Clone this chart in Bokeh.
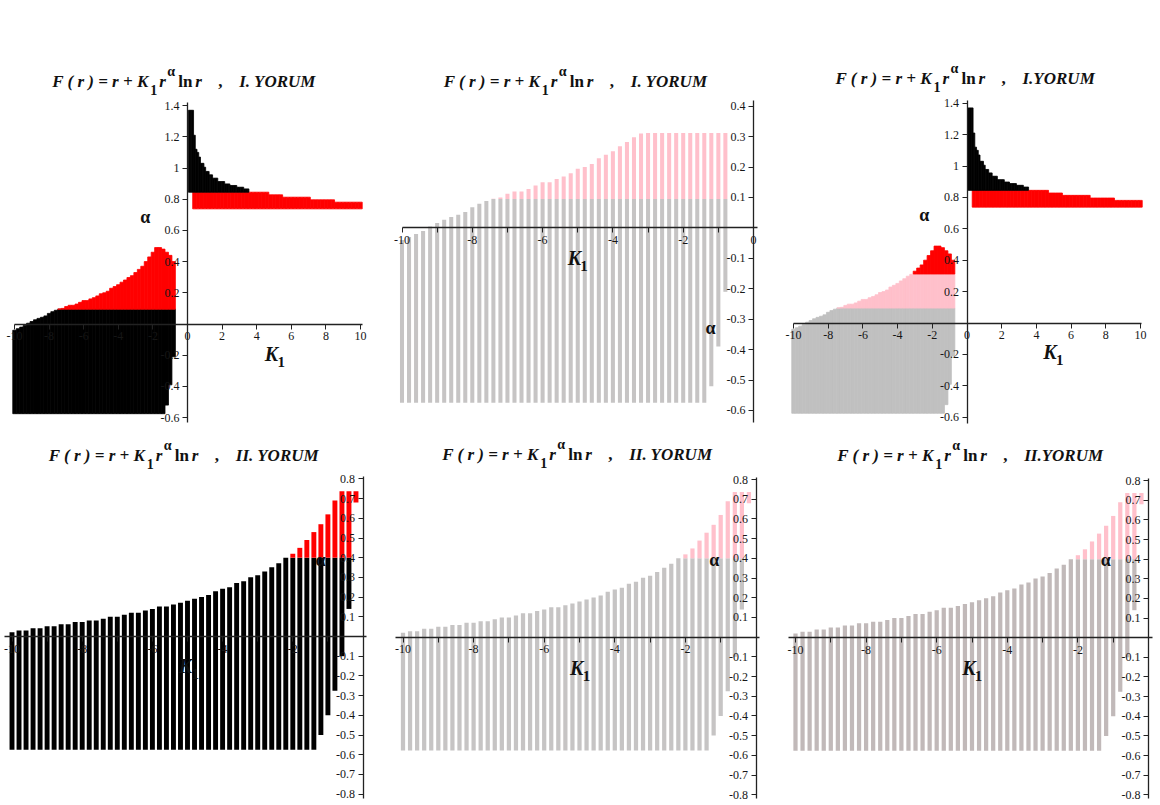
import numpy as np
from bokeh.plotting import figure
from bokeh.layouts import column, row
from bokeh.models import Label, FixedTicker, Range1d, CustomJSTickFormatter
from bokeh.embed import file_html
from bokeh.resources import INLINE

# ---------------- data: I. YORUM, K1 < 0 (columns every 0.2 from -10 to -0.8)
k1_neg_I = np.round(np.arange(-10.0, -0.79, 0.2), 1)
alpha_top_I = [-0.04, -0.03, -0.02, -0.01, 0.005, 0.016, 0.027, 0.036, 0.043, 0.052,
               0.068, 0.079, 0.088, 0.096, 0.10, 0.112, 0.12, 0.12, 0.128, 0.139,
               0.15, 0.15, 0.161, 0.169, 0.18, 0.194, 0.20, 0.21, 0.229, 0.24,
               0.252, 0.268, 0.282, 0.298, 0.31, 0.33, 0.35, 0.37, 0.40, 0.43,
               0.46, 0.49, 0.49, 0.48, 0.46, 0.44, 0.40]
alpha_bottom_I = [-0.575] * 44 + [-0.52, -0.39, -0.21]
alpha_cut_low_I = 0.095
alpha_cut_high_I = 0.312

# ---------------- data: I. YORUM, K1 > 0
k1_pos_black = np.round(np.arange(0.1, 3.51, 0.1), 1)
alpha_top_black = [1.37, 1.37, 1.37, 1.21, 1.12, 1.10, 1.07, 1.03, 1.03, 1.005,
                   0.978, 0.978, 0.956, 0.956, 0.935, 0.935, 0.935, 0.913, 0.913, 0.913,
                   0.913, 0.898, 0.898, 0.898, 0.888, 0.888, 0.888, 0.888, 0.877, 0.877,
                   0.877, 0.877, 0.866, 0.866, 0.866]
alpha_bottom_black = 0.845
k1_pos_red = np.round(np.arange(0.4, 10.01, 0.2), 1)
alpha_top_red = [0.845] * 22 + [0.828] * 4 + [0.813] * 8 + [0.796] * 7 + [0.781] * 8
alpha_bottom_red = 0.738

# ---------------- data: II. YORUM, K1 < 0 (columns every 0.2 from -10 to -0.2)
k1_neg_II = np.round(np.arange(-10.0, -0.19, 0.2), 1)
alpha_top_II = [0.022, 0.03, 0.03, 0.042, 0.042, 0.052, 0.052, 0.062, 0.062, 0.073,
                0.073, 0.081, 0.081, 0.09, 0.10, 0.10, 0.11, 0.121, 0.121, 0.132,
                0.14, 0.152, 0.152, 0.162, 0.171, 0.181, 0.191, 0.201, 0.211, 0.23,
                0.242, 0.25, 0.271, 0.281, 0.301, 0.311, 0.33, 0.352, 0.372, 0.40,
                0.42, 0.45, 0.49, 0.53, 0.57, 0.62, 0.69, 0.737, 0.737, 0.737]
alpha_bottom_II = [-0.575] * 44 + [-0.50, -0.40, -0.275, -0.10, 0.14, 0.68]
alpha_cut_II = 0.40

# ---------------- axis ticks
ticks_x_wide = [-10, -8, -6, -4, -2, 0, 2, 4, 6, 8, 10]
ticks_y_wide = [-0.6, -0.4, -0.2, 0.2, 0.4, 0.6, 0.8, 1.0, 1.2, 1.4]
ticks_x_neg = [-10, -8, -6, -4, -2, 0]
ticks_x_neg_II = [-10, -8, -6, -4, -2]
minor_x_neg = [-9, -7, -5, -3, -1]
ticks_y_I = [-0.6, -0.5, -0.4, -0.3, -0.2, -0.1, 0.1, 0.2, 0.3, 0.4]
ticks_y_II = [-0.8, -0.7, -0.6, -0.5, -0.4, -0.3, -0.2, -0.1, 0.1, 0.2, 0.3, 0.4, 0.5, 0.6, 0.7, 0.8]

BLACK = "#000000"
RED = "#ff0000"
PINK = "#ffc0cb"
GRAY = "#c6c4c4"
GRAY_FILL = "#c0c0c0"
GRAY_WARM = "#c1b9b9"
SERIF = "Liberation Serif"

fmt = CustomJSTickFormatter(code="return String(Math.round(tick*10)/10);")


class Panel:
    def __init__(self, X0, Y0, W, H, x0px, kx, y0px, ky):
        self.X0, self.Y0, self.x0px, self.kx, self.y0px, self.ky = X0, Y0, x0px, kx, y0px, ky
        xr = Range1d((X0 - x0px) / kx, (X0 + W - x0px) / kx)
        yr = Range1d((y0px - (Y0 + H)) / ky, (y0px - Y0) / ky)
        p = figure(width=W, height=H, x_range=xr, y_range=yr, output_backend="svg",
                   toolbar_location=None, min_border=0, title=None)
        p.outline_line_color = None
        p.background_fill_color = "white"
        p.border_fill_color = "white"
        p.grid.visible = False
        for ax in (p.xaxis, p.yaxis):
            ax.fixed_location = 0
            ax.formatter = fmt
            ax.axis_line_color = "#222222"
            ax.axis_line_width = 1.3
            ax.major_tick_line_color = "#222222"
            ax.minor_tick_line_color = "#222222"
            ax.major_tick_in = 0
            ax.major_tick_out = 5
            ax.minor_tick_in = 0
            ax.minor_tick_out = 5
            ax.major_label_text_font = SERIF
            ax.major_label_text_font_size = "12px"
            ax.major_label_text_color = "#161616"
            ax.major_label_standoff = 3
        self.p = p

    def dx(self, px):
        return (px - self.x0px) / self.kx

    def dy(self, py):
        return (self.y0px - py) / self.ky

    def text(self, txt, px, py, size, style="bold", align="left"):
        self.p.add_layout(Label(x=self.dx(px), y=self.dy(py), text=txt, text_font=SERIF,
                                text_font_size=size, text_font_style=style,
                                text_align=align, text_baseline="middle", text_color="#111111"))

    def title(self, fx, fy, roman):
        pieces = [("F ( r ) = r + K", 0, 0, "17px", "bold italic"),
                  ("1", 98, 8.5, "14px", "bold"),
                  ("r", 107, 0, "17px", "bold italic"),
                  ("\u03b1", 115, -10, "14px", "bold"),
                  ("ln", 126, 0, "17px", "bold"),
                  ("r", 143, 0, "17px", "bold italic"),
                  (",", 166, 0, "17px", "bold"),
                  (roman, 187, 0, "17px", "bold italic")]
        for t, ox, oy, s, st in pieces:
            self.text(t, fx + ox, fy + oy, s, st)

    def klabel(self, cx, cy):
        self.text("K", cx, cy, "20px", "bold italic", "center")
        self.text("1", cx + 6, cy + 8, "15px", "bold")

    def alabel(self, cx, cy):
        self.text("\u03b1", cx, cy, "18px", "bold", "center")


def bars(p, k, bottom, top, width, color, seam=False):
    k = np.asarray(k, float)
    b = np.broadcast_to(np.asarray(bottom, float), k.shape)
    t = np.broadcast_to(np.asarray(top, float), k.shape)
    m = t > b
    kw = dict(line_color=color, line_width=0.8) if seam else dict(line_color=None)
    p.vbar(x=k[m], bottom=b[m], top=t[m], width=width, fill_color=color, **kw)


topI = np.array(alpha_top_I)
botI = np.array(alpha_bottom_I)
topII = np.array(alpha_top_II)
botII = np.array(alpha_bottom_II)

# ---------------- panel 1
P1 = Panel(0, 0, 385, 435, 187, 17.3, 323.5, 156)
p = P1.p
bars(p, k1_neg_I, botI, np.minimum(topI, alpha_cut_low_I), 0.2, BLACK, True)
bars(p, k1_neg_I, np.maximum(botI, alpha_cut_low_I), topI, 0.2, RED, True)
bars(p, k1_pos_red, alpha_bottom_red, alpha_top_red, 0.2, RED, True)
bars(p, k1_pos_black, alpha_bottom_black, alpha_top_black, 0.1, BLACK, True)
p.xaxis.ticker = FixedTicker(ticks=ticks_x_wide, minor_ticks=[])
p.yaxis.ticker = FixedTicker(ticks=ticks_y_wide, minor_ticks=[])
p.xaxis.bounds = (-10, 10.1)
p.yaxis.bounds = (-0.63, 1.42)
P1.title(51.7, 80.7, "I. YORUM")
P1.klabel(271, 353)
P1.alabel(144.7, 216.2)

# ---------------- panel 2
P2 = Panel(385, 0, 385, 435, 753, 35.15, 227.4, 304.3)
p = P2.p
bars(p, k1_neg_I, botI, np.minimum(topI, alpha_cut_low_I), 0.115, GRAY)
bars(p, k1_neg_I, np.maximum(botI, alpha_cut_low_I), np.minimum(topI, alpha_cut_high_I), 0.115, PINK)
p.xaxis.ticker = FixedTicker(ticks=ticks_x_neg, minor_ticks=minor_x_neg)
p.yaxis.ticker = FixedTicker(ticks=ticks_y_I, minor_ticks=[])
p.xaxis.bounds = (-10, 0.1)
p.yaxis.bounds = (-0.64, 0.42)
P2.title(443.3, 80.7, "I. YORUM")
P2.klabel(573.8, 257.5)
P2.alabel(710, 327.5)

# ---------------- panel 3
P3 = Panel(770, 0, 390, 435, 966.5, 17.35, 322.5, 157)
p = P3.p
bars(p, k1_neg_I, botI, np.minimum(topI, alpha_cut_low_I), 0.2, GRAY_FILL, True)
bars(p, k1_neg_I, np.maximum(botI, alpha_cut_low_I), np.minimum(topI, alpha_cut_high_I), 0.2, PINK, True)
bars(p, k1_neg_I, np.maximum(botI, alpha_cut_high_I), topI, 0.2, RED, True)
bars(p, k1_pos_red, alpha_bottom_red, alpha_top_red, 0.2, RED, True)
bars(p, k1_pos_black, alpha_bottom_black, alpha_top_black, 0.1, BLACK, True)
p.xaxis.ticker = FixedTicker(ticks=ticks_x_wide, minor_ticks=[])
p.yaxis.ticker = FixedTicker(ticks=ticks_y_wide, minor_ticks=[])
p.xaxis.bounds = (-10, 10.05)
p.yaxis.bounds = (-0.64, 1.42)
P3.title(835, 78.3, "I.YORUM")
P3.klabel(1049.5, 351.8)
P3.alabel(923.7, 214.5)

# ---------------- panel 4
P4 = Panel(0, 435, 385, 370, 362.5, 35.1, 636, 197)
p = P4.p
bars(p, k1_neg_II, botII, np.minimum(topII, alpha_cut_II), 0.14, BLACK)
bars(p, k1_neg_II, np.maximum(botII, alpha_cut_II), topII, 0.14, RED)
P4.title(48.3, 455, "II. YORUM")

# ---------------- panel 5
P5 = Panel(385, 435, 385, 370, 755.5, 35.3, 636.6, 197)
p = P5.p
bars(p, k1_neg_II, botII, np.minimum(topII, alpha_cut_II), 0.12, GRAY)
bars(p, k1_neg_II, np.maximum(botII, alpha_cut_II), topII, 0.12, PINK)
P5.title(441.7, 454, "II. YORUM")

# ---------------- panel 6
P6 = Panel(770, 435, 390, 370, 1148, 35.3, 637.2, 196.4)
p = P6.p
bars(p, k1_neg_II, botII, np.minimum(topII, alpha_cut_II), 0.12, GRAY_WARM)
bars(p, k1_neg_II, np.maximum(botII, alpha_cut_II), topII, 0.12, PINK)
P6.title(836.7, 455, "II.YORUM")

for P, kc, ac in ((P4, (185, 665.8), (320, 559.2)),
                  (P5, (576.2, 667.5), (713.8, 559.5)),
                  (P6, (968.3, 667.5), (1105.3, 559.5))):
    P.p.xaxis.ticker = FixedTicker(ticks=ticks_x_neg_II, minor_ticks=minor_x_neg)
    P.p.yaxis.ticker = FixedTicker(ticks=ticks_y_II, minor_ticks=[])
    P.p.xaxis.bounds = (-10.2, 0.1)
    P.p.yaxis.bounds = (-0.82, 0.81)
    P.klabel(*kc)
    P.alabel(*ac)

layout = column(row(P1.p, P2.p, P3.p), row(P4.p, P5.p, P6.p))
open("out.html", "w").write(file_html(layout, INLINE))
